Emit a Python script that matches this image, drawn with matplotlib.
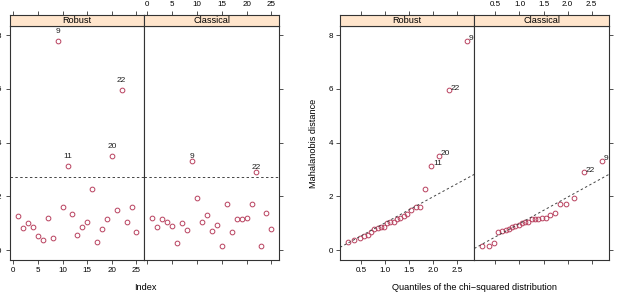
import matplotlib.pyplot as plt
import numpy as np

plt.rcParams['font.family'] = ['Liberation Sans', 'DejaVu Sans']

obs = np.arange(1, 26)
robust_dist = [1.26, 0.84, 1.03, 0.88, 0.53, 0.37, 1.20, 0.47, 7.79, 1.62,
               3.13, 1.34, 0.56, 0.85, 1.06, 2.28, 0.32, 0.78, 1.16, 3.52,
               1.51, 5.95, 1.06, 1.60, 0.67]
classical_dist = [1.21, 0.85, 1.17, 1.05, 0.92, 0.26, 1.00, 0.75, 3.32, 1.93,
                  1.05, 1.32, 0.72, 0.95, 0.15, 1.73, 0.68, 1.15, 1.15, 1.21,
                  1.73, 2.90, 0.16, 1.39, 0.79]
robust_flagged = [9, 11, 20, 22]
classical_flagged = [9, 22]
cutoff = 2.72

# theoretical quantiles (x of the QQ plot)
chi_quantiles = [0.22, 0.36, 0.47, 0.56, 0.64, 0.71, 0.78, 0.85, 0.91, 0.98,
                 1.05, 1.11, 1.18, 1.25, 1.32, 1.39, 1.47, 1.55, 1.64, 1.73,
                 1.84, 1.97, 2.13, 2.34, 2.72]
# reference lines (intercept, slope)
robust_qqline = (0.05, 0.967)
classical_qqline = (0.008, 0.984)

W, H = 621, 298
PT_COL = '#b8405e'
BOX_COL = '#333333'
STRIP_COL = '#ffe5cc'
TICK_FS = 5.8
LAB_FS = 6.6

fig = plt.figure(figsize=(W / 100, H / 100), dpi=100)


def px_axes(x0, y0, x1, y1):
    return fig.add_axes([x0 / W, 1 - y1 / H, (x1 - x0) / W, (y1 - y0) / H])


def style_box(ax):
    for s in ax.spines.values():
        s.set_color(BOX_COL)
        s.set_linewidth(0.8)
    ax.tick_params(length=3, width=0.6, color=BOX_COL, labelsize=TICK_FS,
                   pad=2, direction='out')


def make_panel(x0, x1, name, xlim, xticks, xticklabels, left, top_labels, ypad=2):
    ax = px_axes(x0, 26, x1, 260)
    st = px_axes(x0, 15.3, x1, 26)
    ax.set_xlim(xlim)
    ax.set_ylim(-0.36, 8.335)
    st.set_xlim(xlim)
    st.set_ylim(0, 1)
    st.set_facecolor(STRIP_COL)
    st.text(0.5, 0.5, name, transform=st.transAxes, ha='center', va='center',
            fontsize=LAB_FS, color='black')
    style_box(ax)
    style_box(st)
    st.set_yticks([])
    st.xaxis.set_ticks_position('top')
    st.set_xticks(xticks)
    ax.set_xticks(xticks)
    if top_labels:
        st.set_xticklabels(xticklabels)
        ax.tick_params(axis='x', labelbottom=False)
    else:
        st.tick_params(axis='x', labeltop=False)
        ax.set_xticklabels(xticklabels)
    ax.set_yticks([0, 2, 4, 6, 8])
    if left:
        ax.yaxis.set_ticks_position('left')
        ax.tick_params(axis='y', pad=ypad)
    else:
        ax.yaxis.set_ticks_position('right')
        ax.tick_params(axis='y', labelright=False)
    return ax


# ---- left figure: distance vs index ----
idx_ticks = [0, 5, 10, 15, 20, 25]
idx_labels = [str(t) for t in idx_ticks]
left_panels = [
    (10.3, 144.3, 'Robust', robust_dist, robust_flagged, 4.2, True),
    (144.3, 279.3, 'Classical', classical_dist, classical_flagged, 0.8, False),
]
for x0, x1, name, dist, flagged, lab_off, is_left in left_panels:
    ax = make_panel(x0, x1, name, (-0.63, 26.6), idx_ticks, idx_labels,
                    is_left, not is_left, ypad=3.3)
    ax.plot(obs, dist, 'o', mfc='none', mec=PT_COL, ms=3.4, mew=0.7)
    ax.axhline(cutoff, color='#444444', lw=0.7, dashes=(2.5, 2.5))
    for k in flagged:
        ax.annotate(str(k), (k, dist[k - 1]), xytext=(0, lab_off),
                    textcoords='offset points', ha='center', va='bottom',
                    fontsize=6, color='#222222')
fig.text(145 / W, 1 - 288 / H, 'Index', ha='center', va='center', fontsize=LAB_FS)

# ---- right figure: QQ plot ----
q_ticks = [0.5, 1.0, 1.5, 2.0, 2.5]
q_labels = ['0.5', '1.0', '1.5', '2.0', '2.5']
right_panels = [
    (340, 474.3, 'Robust', robust_dist, robust_flagged, robust_qqline, True),
    (474.3, 609.3, 'Classical', classical_dist, classical_flagged, classical_qqline, False),
]
for x0, x1, name, dist, flagged, qql, is_left in right_panels:
    xlim = (0.061, 2.867)
    ax = make_panel(x0, x1, name, xlim, q_ticks, q_labels, is_left, not is_left)
    order = np.argsort(dist, kind='stable')
    sorted_dist = np.asarray(dist)[order]
    ax.plot(chi_quantiles, sorted_dist, 'o', mfc='none', mec=PT_COL, ms=3.4, mew=0.7)
    xs = np.array(xlim)
    ax.plot(xs, qql[0] + qql[1] * xs, color='#444444', lw=0.7, dashes=(2.5, 2.5))
    for k in flagged:
        rank = int(np.where(order == k - 1)[0][0])
        t = ax.annotate(str(k), (chi_quantiles[rank], sorted_dist[rank]),
                        xytext=(1.2, 1.5), textcoords='offset points',
                        ha='left', va='center', fontsize=6, color='#222222',
                        annotation_clip=False)
        t.set_clip_on(True)
        t.set_clip_box(ax.bbox)

fig.text(313 / W, 1 - 143 / H, 'Mahalanobis distance', rotation=90,
         ha='center', va='center', fontsize=LAB_FS)
fig.text(474.6 / W, 1 - 288 / H, 'Quantiles of the chi\u2212squared distribution',
         ha='center', va='center', fontsize=LAB_FS)

fig.savefig('out.png', dpi=100)
